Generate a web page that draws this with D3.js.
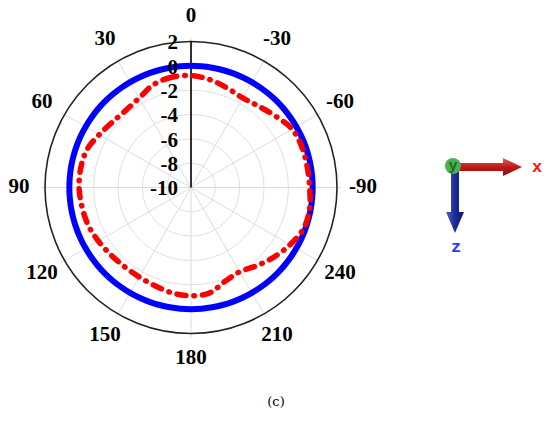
<!DOCTYPE html>
<html>
<head>
<meta charset="utf-8">
<script src="https://cdn.jsdelivr.net/npm/d3@7"></script>
<style>
  body { margin: 0; background: #fff; }
  svg { display: block; }
</style>
</head>
<body>
<svg width="550" height="427"></svg>
<script>
// angles are measured counter-clockwise from the top, in degrees
var angleTicks = [0, 30, 60, 90, 120, 150, 180, 210, 240, 270, 300, 330];
var angleLabels = ['0', '30', '60', '90', '120', '150', '180', '210', '240', '-90', '-60', '-30'];
var radialTicks = [-10, -8, -6, -4, -2, 0, 2];

var redAngles = [0, 10, 20, 30, 40, 50, 60, 70, 80, 90, 100, 110, 120, 130, 140, 150, 160, 170,
                 180, 190, 200, 210, 220, 230, 240, 250, 260, 270, 280, 290, 300, 310, 320, 330, 340, 350];
var redValues = [-0.8, -0.8, -1.0, -1.5, -1.7, -1.6, -1.3, -0.9, -0.8, -0.8, -0.9, -1.0, -1.2, -1.4, -1.5, -1.5, -1.4, -1.2,
                 -1.1, -1.2, -1.8, -2.0, -1.6, -1.1, -0.6, -0.15, -0.1, -0.25, -0.3, -0.3, -0.4, -0.9, -1.3, -1.5, -1.3, -1.0];
var blueValue = 0;

var svg = d3.select('svg');
var cx = 191, cy = 187.5, R = 146;
var r = d3.scaleLinear().domain([-10, 2]).range([0, R]);
var rad = d => d * Math.PI / 180;

var g = svg.append('g').attr('transform', 'translate(' + cx + ',' + cy + ')');

// grid circles
g.selectAll('circle.grid')
  .data(radialTicks.filter(d => d > -10 && d < 2))
  .enter().append('circle')
  .attr('class', 'grid')
  .attr('r', d => r(d))
  .attr('fill', 'none')
  .attr('stroke', '#e0e0e0')
  .attr('stroke-width', 1);

// spokes
g.selectAll('line.spoke')
  .data(angleTicks)
  .enter().append('line')
  .attr('class', 'spoke')
  .attr('x1', 0).attr('y1', 0)
  .attr('x2', d => -(R + 4) * Math.sin(rad(d)))
  .attr('y2', d => -(R + 4) * Math.cos(rad(d)))
  .attr('stroke', '#dcdcdc')
  .attr('stroke-width', 1);

// outer circle
g.append('circle')
  .attr('r', r(2))
  .attr('fill', 'none')
  .attr('stroke', '#222')
  .attr('stroke-width', 1.6);

// radial axis
g.append('line')
  .attr('x1', 0).attr('y1', 0)
  .attr('x2', 0).attr('y2', -r(2))
  .attr('stroke', '#000')
  .attr('stroke-width', 1.6);

// blue trace
var lineR = d3.lineRadial()
  .angle(d => -rad(d[0]))
  .radius(d => r(d[1]))
  .curve(d3.curveCatmullRomClosed);

g.append('path')
  .datum(d3.range(0, 360, 5).map(a => [a, blueValue]))
  .attr('d', lineR)
  .attr('fill', 'none')
  .attr('stroke', '#0000ff')
  .attr('stroke-width', 6);

// red trace
g.append('path')
  .datum(redAngles.map((a, i) => [a, redValues[i]]))
  .attr('d', lineR)
  .attr('fill', 'none')
  .attr('stroke', '#ff0000')
  .attr('stroke-width', 5.5)
  .attr('stroke-linecap', 'round')
  .attr('stroke-dasharray', '9 8 0.5 8');

// radial tick labels
g.selectAll('text.rlab')
  .data(radialTicks)
  .enter().append('text')
  .attr('class', 'rlab')
  .attr('x', -13)
  .attr('y', d => -r(d) + 3)
  .attr('text-anchor', 'end')
  .attr('dominant-baseline', 'middle')
  .attr('font-family', 'Liberation Serif, Times New Roman, serif')
  .attr('font-weight', 'bold')
  .attr('font-size', 21)
  .text(d => d);

// angle labels
g.selectAll('text.alab')
  .data(angleTicks)
  .enter().append('text')
  .attr('class', 'alab')
  .attr('x', (d, i) => -172 * Math.sin(rad(d)))
  .attr('y', (d, i) => -171 * Math.cos(rad(d)) + 1)
  .attr('text-anchor', 'middle')
  .attr('dominant-baseline', 'middle')
  .attr('font-family', 'Liberation Serif, Times New Roman, serif')
  .attr('font-weight', 'bold')
  .attr('font-size', 21)
  .text((d, i) => angleLabels[i]);

// coordinate triad
var tri = svg.append('g').attr('transform', 'translate(455,167)');
var defs = svg.append('defs');
var gx = defs.append('linearGradient').attr('id', 'gx').attr('x1', 0).attr('y1', 0).attr('x2', 0).attr('y2', 1);
gx.append('stop').attr('offset', '0%').attr('stop-color', '#e06060');
gx.append('stop').attr('offset', '50%').attr('stop-color', '#c01818');
gx.append('stop').attr('offset', '100%').attr('stop-color', '#8a1010');
var gz = defs.append('linearGradient').attr('id', 'gz').attr('x1', 0).attr('y1', 0).attr('x2', 1).attr('y2', 0);
gz.append('stop').attr('offset', '0%').attr('stop-color', '#5060c0');
gz.append('stop').attr('offset', '50%').attr('stop-color', '#1c2a9a');
gz.append('stop').attr('offset', '100%').attr('stop-color', '#101870');

tri.append('path')
  .attr('d', 'M0,-4 L48,-4 L48,-9 L67,0 L48,9 L48,4 L0,4 Z')
  .attr('fill', 'url(#gx)');
tri.append('path')
  .attr('d', 'M-4,0 L-4,45 L-9,45 L0,66 L9,45 L4,45 L4,0 Z')
  .attr('fill', 'url(#gz)');
tri.append('circle')
  .attr('cx', -2).attr('cy', -1).attr('r', 8)
  .attr('fill', '#4caf50');
tri.append('text')
  .attr('x', -2).attr('y', 3)
  .attr('text-anchor', 'middle')
  .attr('font-family', 'Liberation Mono, DejaVu Sans Mono, monospace')
  .attr('font-weight', 'bold')
  .attr('font-size', 15)
  .attr('fill', '#1f6a1f')
  .text('y');
tri.append('text')
  .attr('x', 82).attr('y', 5)
  .attr('text-anchor', 'middle')
  .attr('font-family', 'Liberation Mono, DejaVu Sans Mono, monospace')
  .attr('font-weight', 'bold')
  .attr('font-size', 17)
  .attr('fill', '#ff1010')
  .text('x');
tri.append('text')
  .attr('x', 1).attr('y', 85)
  .attr('text-anchor', 'middle')
  .attr('font-family', 'Liberation Mono, DejaVu Sans Mono, monospace')
  .attr('font-weight', 'bold')
  .attr('font-size', 17)
  .attr('fill', '#1a3cff')
  .text('z');

// caption
svg.append('text')
  .attr('x', 276).attr('y', 406)
  .attr('text-anchor', 'middle')
  .attr('font-family', 'DejaVu Serif, serif')
  .attr('font-size', 13)
  .attr('fill', '#000')
  .text('(c)');
</script>
</body>
</html>
